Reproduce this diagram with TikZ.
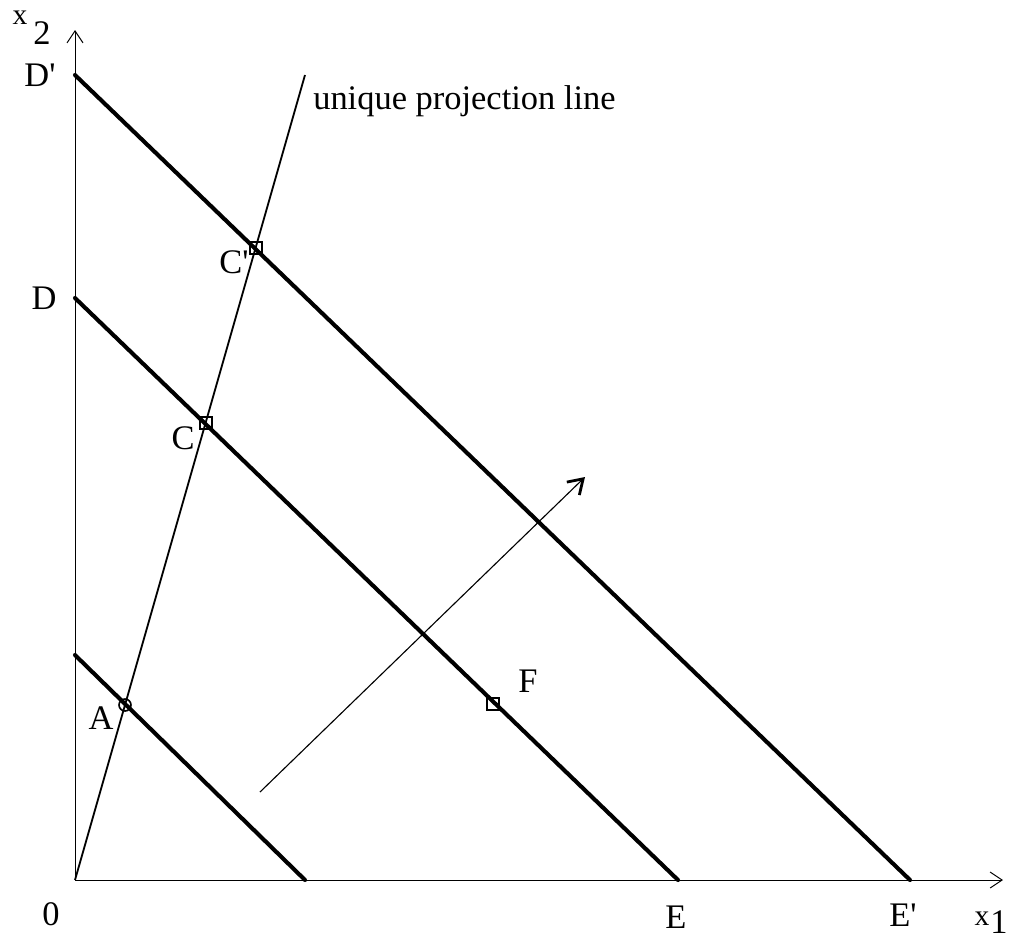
\documentclass[tikz,border=0pt]{standalone}
\usepackage{fontspec}
\setmainfont{Liberation Serif}[Ligatures=TeXOff]
\usetikzlibrary{arrows.meta,positioning}
\tikzset{
  >={Straight Barb[length=3mm,width=4mm]},
  axis/.style={->,line width=0.7pt},
  budget/.style={line width=2.9pt,line cap=round},
  ray/.style={line width=1.3pt},
  lab/.style={font=\fontsize{24.5}{28}\selectfont,inner sep=0pt},
  sublab/.style={font=\fontsize{21}{24}\selectfont,inner sep=0pt},
  sqmark/.style={draw,line width=1.2pt,minimum size=8.5pt,inner sep=0pt},
  ccmark/.style={draw,circle,line width=1.2pt,minimum size=8.5pt,inner sep=0pt},
}
\begin{document}
\begin{tikzpicture}[x=0.025cm,y=-0.025cm]
  \useasboundingbox (0,0) rectangle (1016,940);
  % axes
  \coordinate (O) at (75,880);
  \coordinate (xend) at (1003,880);
  \coordinate (yend) at (75,30);
  \draw[axis] (O) -- (xend);
  \draw[axis] (O) -- (yend);
  % lines
  \coordinate (Dp) at (75,75);
  \coordinate (Ep) at (910,880);
  \coordinate (D) at (75,298);
  \coordinate (E) at (678,880);
  \coordinate (G) at (75,655);
  \coordinate (H) at (305,880);
  \draw[budget] (Dp) -- (Ep);
  \draw[budget] (D) -- (E);
  \draw[budget] (G) -- (H);
  % projection line
  \coordinate (ptop) at (305,75);
  \draw[ray] (O) -- (ptop);
  % direction arrow
  \coordinate (arrS) at (260,792);
  \coordinate (arrE) at (585,477);
  \draw[->,line width=0.8pt,>={Straight Barb[length=3.5mm,width=4.5mm,line width=2pt]}] (arrS) -- (arrE);
  % marks
  \node[ccmark] (A) at (125,705) {};
  \node[sqmark] (C) at (206,423) {};
  \node[sqmark] (Cp) at (256,248) {};
  \node[sqmark] (F) at (493,704) {};
  % labels
  \node[lab] (labA) at (101,718) {A};
  \node[lab] (labC) at (183,438) {C};
  \node[lab] (labCp) at (234,262) {C'};
  \node[lab] (labF) at (528,681) {F};
  \node[lab] (labDp) at (40,75) {D'};
  \node[lab] (labD) at (44,298) {D};
  \node[lab] (labO) at (51,914) {0};
  \node[lab] (labE) at (676,917) {E};
  \node[lab] (labEp) at (903,915) {E'};
  \node[lab,anchor=west] (labproj) at (313,101) {unique projection line};
  \node[sublab] (labx2) at (20,18) {x};
  \node[lab] (lab2) at (42,33) {2};
  \node[sublab] (labx1) at (982,919) {x};
  \node[lab] (lab1) at (999,922) {1};
\end{tikzpicture}
\end{document}
